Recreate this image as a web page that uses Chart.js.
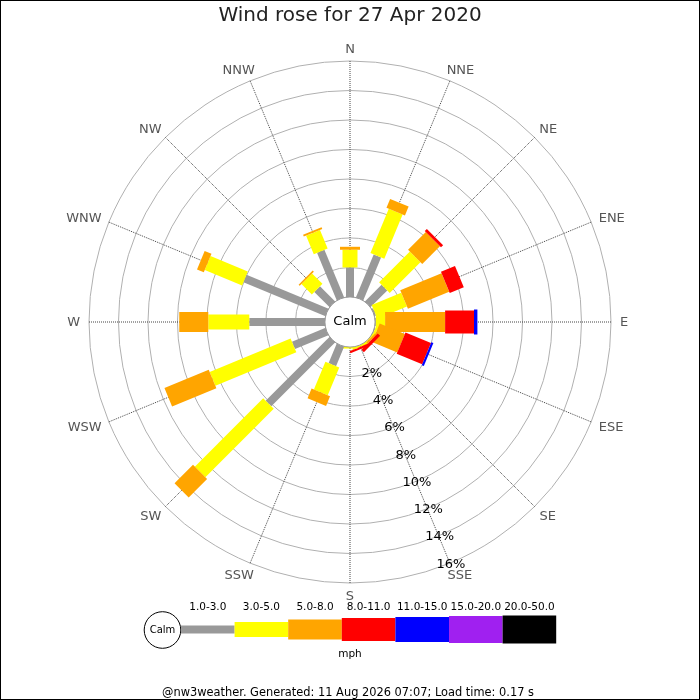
<!DOCTYPE html>
<html>
<head>
<meta charset="utf-8">
<title>Wind rose</title>
<script src="https://cdn.jsdelivr.net/npm/chart.js@4.4.0/dist/chart.umd.min.js"></script>
<style>
  html, body { margin: 0; padding: 0; background: #fff; }
  #wrap { width: 700px; height: 700px; }
</style>
</head>
<body>
<div id="wrap"><canvas id="windRose"></canvas></div>
<script>
// compass points, clockwise from north
const directions = ['N', 'NNE', 'NE', 'ENE', 'E', 'ESE', 'SE', 'SSE',
  'S', 'SSW', 'SW', 'WSW', 'W', 'WNW', 'NW', 'NNW'];

// speed classes (mph)
const speedBins = ['1.0-3.0', '3.0-5.0', '5.0-8.0', '8.0-11.0', '11.0-15.0', '15.0-20.0', '20.0-50.0'];

// % of the day per direction, one array per speed class
const pct1to3 = [2.0, 3.15, 1.6, 0.1, 0.05, 0.05, 0, 0, 0, 1.43, 6.12, 2.45, 5.13, 6.01, 1.45, 3.49];
const pct3to5 = [1.2, 3.25, 2.95, 2.17, 0.63, 0.15, 0.05, 0.1, 0.1, 2.04, 6.56, 5.94, 2.78, 2.74, 1.0, 1.36];
const pct5to8 = [0.2, 0.65, 1.7, 3.03, 4.07, 1.85, 0.13, 0.03, 0, 0.71, 1.77, 3.25, 1.97, 0.5, 0.1, 0.13];
const pct8to11 = [0, 0, 0.2, 1.03, 1.96, 1.87, 0.23, 0.14, 0, 0, 0, 0, 0, 0, 0, 0];
const pct11to15 = [0, 0, 0, 0, 0.23, 0.15, 0, 0, 0, 0, 0, 0, 0, 0, 0, 0];
const pct15to20 = [0, 0, 0, 0, 0, 0, 0, 0, 0, 0, 0, 0, 0, 0, 0, 0];
const pct20to50 = [0, 0, 0, 0, 0, 0, 0, 0, 0, 0, 0, 0, 0, 0, 0, 0];

// rings, in %
const ringTicks = [0, 2, 4, 6, 8, 10, 12, 14, 16];

const titleText = 'Wind rose for 27 Apr 2020';
const unitText = 'mph';
const footerText = '@nw3weather. Generated: 11 Aug 2026 07:07; Load time: 0.17 s';

// styling
const binColors = ['#999999', '#ffff00', '#ffa500', '#ff0000', '#0000ff', '#a020f0', '#000000'];
const barWidths = [8, 15, 20, 23, 25, 27, 28];
const CALM_OFFSET = 1.7; // room for the calm circle, in % units
const FONT = 'DejaVu Sans';

Chart.defaults.font.family = FONT;

const seriesByBin = [pct1to3, pct3to5, pct5to8, pct8to11, pct11to15, pct15to20, pct20to50];

const roseBars = {
  id: 'roseBars',
  afterDatasetsDraw(chart) {
    const scale = chart.scales.r;
    const ctx = chart.ctx;
    ctx.save();
    ctx.lineCap = 'butt';

    // stacked bars, inner class first
    directions.forEach((dir, i) => {
      let total = 0;
      chart.data.datasets.forEach((ds, k) => {
        const v = ds.data[i];
        if (!v) return;
        const start = total === 0 ? scale.min : total;
        total += v;
        const p0 = scale.getPointPositionForValue(i, start);
        const p1 = scale.getPointPositionForValue(i, total);
        ctx.strokeStyle = ds.backgroundColor;
        ctx.lineWidth = barWidths[k];
        ctx.beginPath();
        ctx.moveTo(p0.x, p0.y);
        ctx.lineTo(p1.x, p1.y);
        ctx.stroke();
      });
    });

    // calm circle
    const calmR = scale.getDistanceFromCenterForValue(0);
    ctx.fillStyle = '#fff';
    ctx.strokeStyle = '#999';
    ctx.lineWidth = 1;
    ctx.beginPath();
    ctx.arc(scale.xCenter, scale.yCenter, calmR, 0, Math.PI * 2);
    ctx.fill();
    ctx.stroke();
    ctx.fillStyle = '#000';
    ctx.font = '13px ' + FONT;
    ctx.textAlign = 'center';
    ctx.textBaseline = 'middle';
    ctx.fillText('Calm', scale.xCenter, scale.yCenter);

    // ring labels along SSE
    const tickIndex = directions.indexOf('SSE');
    ringTicks.filter((v) => v > 0).forEach((v) => {
      const p = scale.getPointPositionForValue(tickIndex, v);
      ctx.fillText(v + '%', p.x + 1, p.y + 1);
    });

    // compass labels
    ctx.fillStyle = '#555';
    directions.forEach((dir, i) => {
      const p = scale.getPointPosition(i, scale.drawingArea + 6);
      const a = scale.getIndexAngle(i);
      const w = ctx.measureText(dir).width;
      const s = Math.sin(a);
      const nudge = Math.abs(s) > 0.01 ? Math.sign(s) * 3 : 0;
      ctx.fillText(dir, p.x + s * w / 2 + nudge, p.y - Math.cos(a) * 6.5 + 1);
    });
    ctx.restore();
  },
  afterDraw(chart) {
    const ctx = chart.ctx;
    ctx.save();

    // speed legend
    const cy = 629.5;
    const x0 = 181;
    const boxW = 53.6;
    ctx.fillStyle = '#fff';
    ctx.strokeStyle = '#000';
    ctx.lineWidth = 1;
    ctx.beginPath();
    ctx.arc(162.5, 630, 18.3, 0, Math.PI * 2);
    ctx.fill();
    ctx.stroke();
    ctx.fillStyle = '#000';
    ctx.textAlign = 'center';
    ctx.textBaseline = 'middle';
    ctx.font = '10px ' + FONT;
    ctx.fillText('Calm', 162.5, 630.5);

    ctx.font = '10.5px ' + FONT;
    speedBins.forEach((label, k) => {
      const x = x0 + k * boxW;
      const h = barWidths[k];
      ctx.fillStyle = binColors[k];
      ctx.fillRect(x, cy - h / 2, boxW, h);
      ctx.fillStyle = '#000';
      ctx.fillText(label, x + boxW / 2, 607.5);
    });
    ctx.fillText(unitText, 350, 654);

    ctx.font = '11.4px ' + FONT;
    ctx.fillText(footerText, 348, 693);

    // frame
    ctx.strokeStyle = '#000';
    ctx.strokeRect(0.5, 0.5, chart.width - 1, chart.height - 1);
    ctx.restore();
  }
};

new Chart(document.getElementById('windRose'), {
  type: 'radar',
  data: {
    labels: directions,
    datasets: speedBins.map((label, k) => ({
      label: label,
      data: seriesByBin[k],
      backgroundColor: binColors[k],
      borderColor: binColors[k],
      showLine: false,
      fill: false,
      pointRadius: 0,
      pointHoverRadius: 0,
      pointHitRadius: 0,
    })),
  },
  options: {
    responsive: true,
    maintainAspectRatio: false,
    animation: false,
    events: [],
    layout: { padding: { left: 89, right: 89, top: 0, bottom: 117 } },
    plugins: {
      legend: { display: false },
      tooltip: { enabled: false },
      title: {
        display: true,
        text: titleText,
        color: '#222',
        font: { family: FONT, size: 20, weight: 'normal' },
        padding: { top: 4, bottom: 33 },
      },
    },
    scales: {
      r: {
        min: -CALM_OFFSET,
        max: 16,
        afterBuildTicks: (scale) => {
          scale.ticks = ringTicks.map((v) => ({ value: v }));
        },
        ticks: { display: false },
        grid: { circular: true, color: '#b0b0b0', lineWidth: 1 },
        angleLines: { color: '#444', lineWidth: 1, borderDash: [1, 1] },
        pointLabels: { display: false },
      },
    },
  },
  plugins: [roseBars],
});
</script>
</body>
</html>
